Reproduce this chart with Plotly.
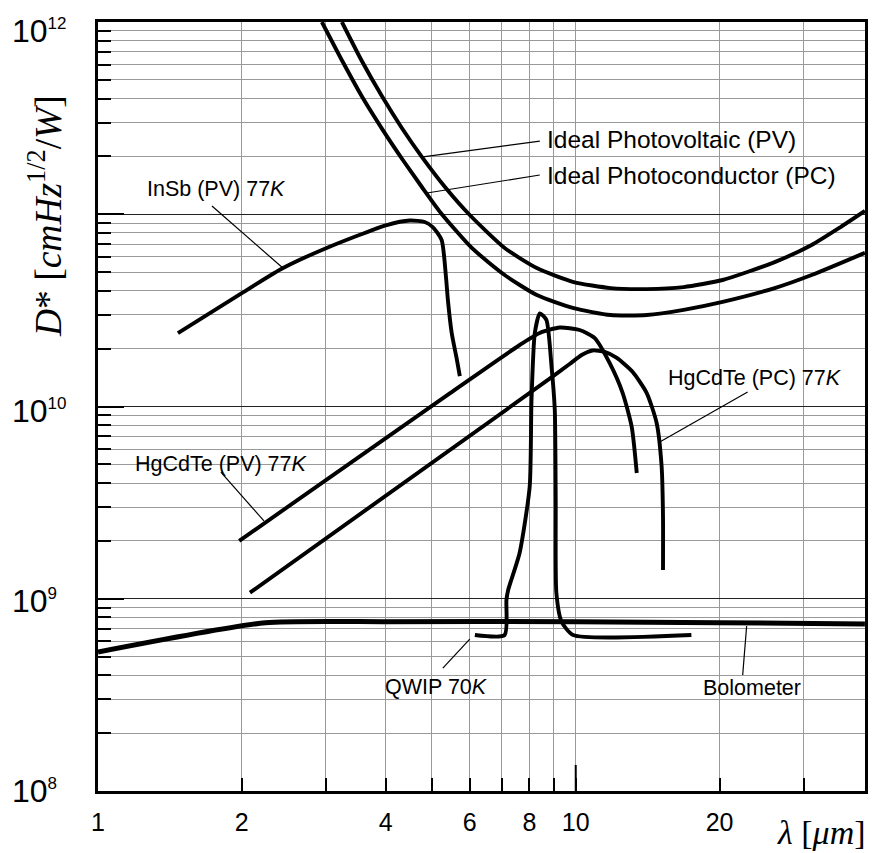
import math
import plotly.graph_objects as go

# ---------------- data (wavelength in um, D* in cm Hz^1/2 / W) ----------------
IDEAL_PV_WL = [3.24, 3.567, 3.928, 4.325, 4.763, 5.346, 6.00, 7.10, 8.29, 9.90, 11.83, 14.08, 16.82, 20.30, 26.09, 31.17, 35.85, 40.3]
IDEAL_PV_D = [1.0e12, 6.27e11, 4.12e11, 2.81e11, 1.99e11, 1.37e11, 9.91e10, 6.68e10, 5.25e10, 4.44e10, 4.13e10, 4.08e10, 4.18e10, 4.55e10, 5.64e10, 6.92e10, 8.58e10, 1.04e11]

IDEAL_PC_WL = [2.942, 3.255, 3.584, 3.947, 4.346, 4.763, 5.22, 6.06, 7.10, 8.29, 9.90, 11.83, 14.08, 16.82, 20.30, 26.09, 31.17, 40.3]
IDEAL_PC_D = [1.0e12, 6.19e11, 4.02e11, 2.74e11, 1.915e11, 1.386e11, 1.015e11, 6.68e10, 4.83e10, 3.80e10, 3.25e10, 2.99e10, 2.99e10, 3.18e10, 3.50e10, 4.13e10, 4.83e10, 6.30e10]

INSB_WL = [1.47, 2.00, 2.44, 3.01, 4.02, 4.50, 4.83, 5.02, 5.24, 5.35, 5.40, 5.50, 5.64, 5.72]
INSB_D = [2.41e10, 3.89e10, 5.25e10, 6.68e10, 8.79e10, 9.28e10, 9.11e10, 8.58e10, 7.35e10, 4.72e10, 3.58e10, 2.41e10, 1.75e10, 1.44e10]

HGCDTE_PV_WL = [1.975, 5.449, 7.634, 8.407, 9.26, 10.19, 10.96, 11.78, 12.54, 13.10, 13.42]
HGCDTE_PV_D = [2.00e9, 1.171e10, 2.089e10, 2.412e10, 2.576e10, 2.50e10, 2.27e10, 1.68e10, 1.175e10, 7.82e9, 4.51e9]

HGCDTE_PC_WL = [2.08, 8.82, 9.71, 10.29, 10.85, 11.50, 12.19, 13.16, 14.08, 14.77, 15.13, 15.23, 15.23]
HGCDTE_PC_D = [1.075e9, 1.395e10, 1.663e10, 1.853e10, 1.956e10, 1.921e10, 1.788e10, 1.512e10, 1.175e10, 8.21e9, 4.85e9, 2.66e9, 1.41e9]

QWIP_WL = [6.15, 7.10, 7.16, 7.22, 7.63, 8.01, 8.08, 8.21, 8.41, 8.68, 8.90, 9.04, 9.08, 9.11, 9.34, 9.87, 17.46]
QWIP_D = [6.48e8, 6.48e8, 9.85e8, 1.11e9, 1.73e9, 3.83e9, 1.08e10, 2.41e10, 3.05e10, 2.82e10, 1.61e10, 9.59e9, 3.26e9, 1.07e9, 7.6e8, 6.48e8, 6.48e8]

BOLO_WL = [1.0, 2.24, 4.0, 10.0, 20.0, 40.3]
BOLO_D = [5.28e8, 7.5e8, 7.6e8, 7.6e8, 7.5e8, 7.4e8]

# leader lines (from curve to label)
LEAD_PV_WL, LEAD_PV_D = [4.79, 8.41], [1.99e11, 2.40e11]
LEAD_PC_WL, LEAD_PC_D = [4.88, 8.41], [1.29e11, 1.60e11]
LEAD_INSB_WL, LEAD_INSB_D = [1.732, 2.438], [1.104e11, 5.25e10]
LEAD_HPV_WL, LEAD_HPV_D = [1.808, 2.225], [4.56e9, 2.54e9]
LEAD_HPC_WL, LEAD_HPC_D = [14.99, 22.90], [6.54e9, 1.19e10]
LEAD_QWIP_WL, LEAD_QWIP_D = [5.27, 6.00], [4.36e8, 6.17e8]
LEAD_BOLO_WL, LEAD_BOLO_D = [22.36, 22.79], [4.01e8, 7.22e8]

# labels: text, anchor wavelength, anchor D*
LABEL_TEXT = ["Ideal Photovoltaic (PV)", "Ideal Photoconductor (PC)", "InSb (PV) 77<i>K</i>",
              "HgCdTe (PV) 77<i>K</i>", "HgCdTe (PC) 77<i>K</i>", "QWIP 70<i>K</i>", "Bolometer"]
LABEL_WL = [8.61, 8.61, 1.254, 1.184, 15.43, 3.947, 18.26]
LABEL_D = [2.46e11, 1.60e11, 1.353e11, 5.02e9, 1.415e10, 3.475e8, 3.45e8]
LABEL_SIZE = [24.5, 24.5, 21.5, 21.5, 21.5, 21.5, 21.5]

# axis ticks
X_LABELED = [1, 2, 4, 6, 8, 10, 20]
X_LABELS = ["1", "2", "4", "6", "8", "10", "20"]
X_UNLABELED = [3, 5, 7, 9, 30]
Y_DECADES = [1e8, 1e9, 1e10, 1e11, 1e12]
Y_LABEL_VALUES = [1e8, 1e9, 1e10, 1e12]
Y_LABEL_EXP = ["8", "9", "10", "12"]

SANS = "Liberation Sans, Arial, Helvetica, sans-serif"
SERIF = "Liberation Serif, Times New Roman, serif"

fig = go.Figure()


def add_line(x, y, width, smooth=True):
    line = dict(color="black", width=width)
    if smooth:
        line.update(shape="spline", smoothing=0.6)
    fig.add_trace(go.Scatter(x=x, y=y, mode="lines", line=line, hoverinfo="skip", showlegend=False))


for wl, d in [(IDEAL_PV_WL, IDEAL_PV_D), (IDEAL_PC_WL, IDEAL_PC_D), (INSB_WL, INSB_D),
              (HGCDTE_PV_WL, HGCDTE_PV_D), (HGCDTE_PC_WL, HGCDTE_PC_D), (QWIP_WL, QWIP_D)]:
    add_line(wl, d, 3.9)
add_line(BOLO_WL, BOLO_D, 5)

for wl, d in [(LEAD_PV_WL, LEAD_PV_D), (LEAD_PC_WL, LEAD_PC_D), (LEAD_INSB_WL, LEAD_INSB_D),
              (LEAD_HPV_WL, LEAD_HPV_D), (LEAD_HPC_WL, LEAD_HPC_D), (LEAD_QWIP_WL, LEAD_QWIP_D),
              (LEAD_BOLO_WL, LEAD_BOLO_D)]:
    add_line(wl, d, 1.2, smooth=False)

annotations = []
for t, wl, d, s in zip(LABEL_TEXT, LABEL_WL, LABEL_D, LABEL_SIZE):
    annotations.append(dict(text=t, x=math.log10(wl), y=math.log10(d), xref="x", yref="y",
                            xanchor="left", yanchor="middle", showarrow=False,
                            font=dict(family=SANS, size=s, color="black")))

# y tick labels (left aligned like the original)
YSHIFT = {"8": 0, "9": -2, "10": -4, "12": -9}
for v, e in zip(Y_LABEL_VALUES, Y_LABEL_EXP):
    annotations.append(dict(text="10<sup><span style='font-size:17px'>%s</span></sup>" % e,
                            x=-0.1147, xref="paper", y=math.log10(v), yref="y",
                            xanchor="left", yanchor="middle", showarrow=False, yshift=YSHIFT[e],
                            font=dict(family=SANS, size=32, color="black")))

# axis titles
annotations.append(dict(text="<i>D</i>* [<i>cmHz</i><sup>1/2</sup>/<i>W</i>]", textangle=-90,
                        x=-0.0691, y=0.7477, xref="paper", yref="paper", xanchor="center", yanchor="middle",
                        showarrow=False, font=dict(family=SERIF, size=37.5, color="black")))
annotations.append(dict(text="<i>λ</i> [<i>μm</i>]", x=0.9436, y=-0.054, xref="paper", yref="paper",
                        xanchor="center", yanchor="middle", showarrow=False,
                        font=dict(family=SERIF, size=34, color="black")))

minor_y = [k * 10 ** n for n in range(8, 12) for k in range(2, 10)]

fig.update_layout(
    width=880, height=853,
    margin=dict(l=98, r=15, t=22, b=62, pad=0),
    paper_bgcolor="white", plot_bgcolor="white",
    showlegend=False,
    annotations=annotations,
    shapes=[dict(type="line", xref="x", yref="paper", x0=10, x1=10, y0=0, y1=26 / 769,
                 line=dict(color="black", width=2))],
    xaxis=dict(type="log", range=[0, 1.6055], tickmode="array", tickvals=X_LABELED, ticktext=X_LABELS,
               ticks="inside", ticklen=13, tickwidth=2, tickcolor="black", ticklabelstandoff=7,
               showgrid=True, gridcolor="#9a9a9a", gridwidth=1,
               showline=True, linecolor="black", linewidth=2.5, mirror=True,
               tickfont=dict(family=SANS, size=25, color="black"), zeroline=False,
               minor=dict(tickmode="array", tickvals=X_UNLABELED, ticks="inside", ticklen=13,
                          tickwidth=2, tickcolor="black", showgrid=True, gridcolor="#9a9a9a", gridwidth=1)),
    yaxis=dict(type="log", range=[8, 12], tickmode="array", tickvals=Y_DECADES, showticklabels=False,
               ticks="inside", ticklen=26, tickwidth=2, tickcolor="black",
               showgrid=True, gridcolor="#222222", gridwidth=1.3,
               showline=True, linecolor="black", linewidth=2.5, mirror=True, zeroline=False,
               minor=dict(tickmode="array", tickvals=minor_y, ticks="inside", ticklen=13,
                          tickwidth=2, tickcolor="black", showgrid=True, gridcolor="#9a9a9a", gridwidth=1)),
)

fig.write_html("out.html")
